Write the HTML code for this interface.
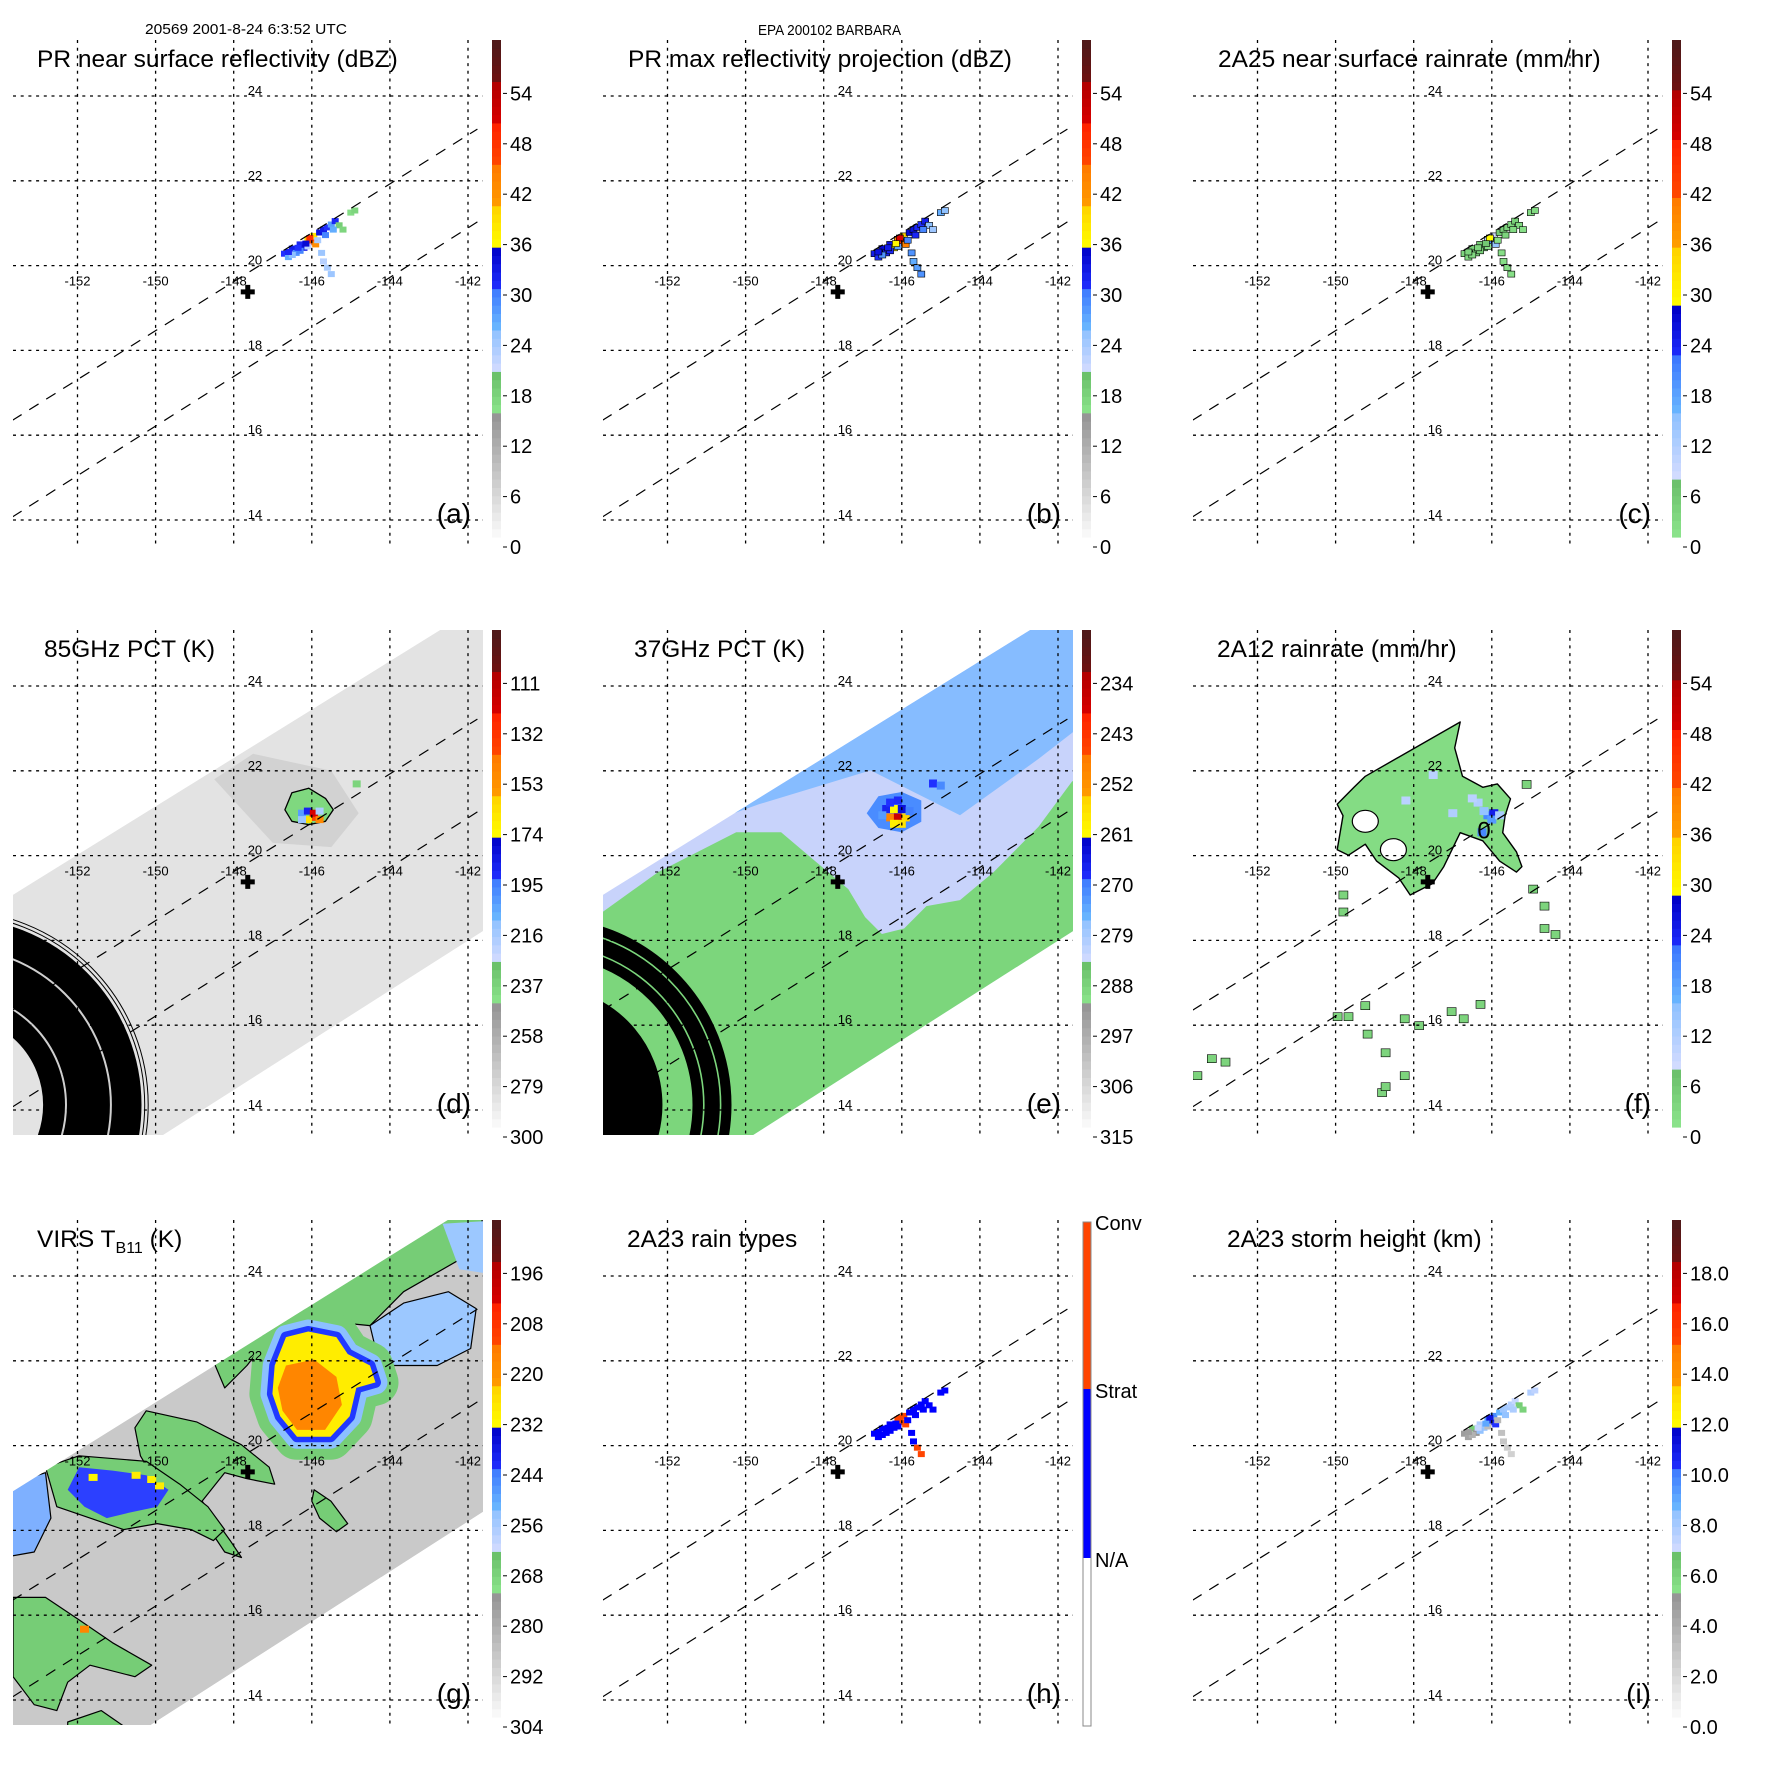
<!DOCTYPE html>
<html><head><meta charset="utf-8"><title>TRMM Barbara</title>
<style>
html,body{margin:0;padding:0;background:#fff;}
svg{display:block;font-family:"Liberation Sans",Arial,sans-serif;}
</style></head>
<body>
<svg id="chart" xmlns="http://www.w3.org/2000/svg" width="1771" height="1771" viewBox="0 0 1771 1771">
<rect x="0" y="0" width="1771" height="1771" fill="#fff"/>
<text x="145" y="34" font-size="15" textLength="202" lengthAdjust="spacingAndGlyphs">20569 2001-8-24 6:3:52 UTC</text>
<text x="758" y="35" font-size="14.5" textLength="143" lengthAdjust="spacingAndGlyphs">EPA 200102 BARBARA</text>
</svg>
<script>
// ---------- data ----------
const lonTicks=[-152,-150,-148,-146,-144,-142];
const latTicks=[14,16,18,20,22,24];
const centerLon=[-147.64];
const centerLat=[19.38];
const edge1Lon=[-153.67,-141.76]; const edge1Lat=[16.35,23.22];
const edge2Lon=[-153.67,-141.76]; const edge2Lat=[14.07,21.03];
const prLon=[-146.7,-146.6,-146.5,-146.4,-146.3,-146.2,-146.1,-146.0,-145.95,-145.9,-145.8,-145.7,-145.6,-145.5,-145.4,-146.5,-146.1,-145.85,-145.75,-145.7,-145.6,-145.5,-145.3,-145.2,-145.0,-144.9,-146.3,-146.05,-146.6,-146.35,-146.15,-145.65,-145.45];
const prLat=[20.28,20.2,20.4,20.3,20.5,20.42,20.62,20.55,20.7,20.5,20.78,20.85,20.9,20.97,21.05,20.25,20.45,20.6,20.3,20.1,19.95,19.8,20.95,20.85,21.25,21.3,20.35,20.65,20.32,20.42,20.52,20.72,20.85];
const aVals=[30,26,32,28,31,33,40,45,38,42,33,32,30,27,31,25,22,23,24,22,23,24,18,17,16,17,29,48,31,30,34,29,26];
const bVals=[32,30,34,31,33,35,42,48,40,44,34,33,31,30,32,28,27,29,28,26,27,28,25,24,26,25,31,50,33,32,36,31,29];
const cVals=[3,2,4,3,5,6,12,20,8,14,5,4,3,2,4,2,1,1,1,1,1,1,2,1,2,2,4,28,3,3,5,3,2];
const hVals=[1,1,1,1,1,1,2,2,2,2,1,1,1,1,1,1,1,1,1,1,2,2,1,1,1,1,1,2,1,1,1,1,1];
const iVals=[4.5,4.2,6,4.8,7.5,8,9,10.5,9.5,10,8.5,8,7.8,7.5,7,3.5,3,3.2,2.8,2.5,2.2,2,6,5.8,7.5,7.2,8.2,11,4.4,7,8.8,8.2,7.6];
const tmiSwathLon=[-155,-141,-141,-155]; const tmiSwathLat=[18.31,26.3,18.58,10.36];
const virsSwathLon=[-155,-141,-141,-155]; const virsSwathLat=[18.15,26.19,18.80,10.53];
const ringLon=[-155.17]; const ringLat=[14.12];
const dBlobLon=[-146.51,-146.08,-145.65,-145.45,-145.65,-146.08,-146.51,-146.69];
const dBlobLat=[21.48,21.59,21.35,21.08,20.81,20.73,20.81,21.08];
const dSmudgeLon=[-148.5,-147.5,-145.5,-144.8,-145.5,-147.0];
const dSmudgeLat=[21.8,22.4,22.0,21.0,20.2,20.3];
const dCellLon=[-146.25,-146.1,-145.95,-146.1,-145.95,-145.8,-146.25,-145.8,-144.85];
const dCellLat=[21.0,21.05,20.9,20.85,21.0,20.85,20.85,21.05,21.69];
const dCellVal=[205,190,140,165,125,150,215,220,240];
const eBlueLon=[-150.3,-141,-141,-142.5,-144.51,-146.8,-149.66];
const eBlueLat=[21.0,26.3,23.35,22.28,20.95,22.01,21.21];
const eGreenLon=[-153.65,-152.24,-150.24,-149.09,-148.23,-147.37,-146.94,-146.51,-145.94,-145.37,-144.51,-143.65,-142.5,-141.64,-141,-141,-155,-155];
const eGreenLat=[18.68,19.61,20.55,20.55,19.88,19.21,18.55,18.15,18.28,18.81,18.95,19.61,20.68,21.75,21.9,10,10,17.9];
const eHaloLon=[-146.9,-146.6,-146.0,-145.5,-145.5,-146.0,-146.6];
const eHaloLat=[21.0,21.4,21.5,21.3,20.8,20.55,20.65];
const eCellLon=[-146.4,-146.2,-146.0,-146.3,-146.1,-145.9,-146.2,-146.0,-146.3,-146.1,-145.2,-145.0,-146.5,-145.8];
const eCellLat=[21.1,21.1,21.1,20.9,20.9,20.9,20.75,20.75,21.25,21.3,21.7,21.65,20.95,21.05];
const eCellVal=[268,262,265,250,238,255,260,258,270,269,270,272,274,271];
const fBlobLon=[-146.81,-146.95,-146.75,-146.23,-145.86,-145.52,-145.66,-145.72,-145.37,-145.23,-145.37,-145.8,-146.23,-146.81,-147.23,-147.52,-148.09,-148.38,-148.95,-149.24,-149.67,-149.96,-149.81,-149.96,-149.53,-149.24];
const fBlobLat=[23.15,22.54,21.87,21.61,21.69,21.34,20.94,20.54,20.09,19.74,19.61,19.87,20.35,20.54,19.74,19.34,19.07,19.47,19.87,20.27,20.01,20.14,20.94,21.21,21.61,21.87];
const fHoleLon=[-149.24,-148.52]; const fHoleLat=[20.81,20.14];
const fIsleLon=[-149.8,-149.8,-144.94,-144.65,-144.65,-144.37,-149.95,-149.67,-149.18,-149.24,-148.23,-147.86,-148.72,-148.81,-148.72,-148.23,-146.72,-146.29,-147.03,-153.17,-152.82,-153.54,-145.11];
const fIsleLat=[19.07,18.67,19.21,18.81,18.28,18.14,16.2,16.2,15.79,16.46,16.15,15.99,15.35,14.41,14.55,14.81,16.15,16.49,16.32,15.21,15.13,14.81,21.68];
const fCellLon=[-146.1,-145.95,-146.0,-146.2,-146.35,-146.5,-145.8,-146.25,-147.5,-148.2,-147.0];
const fCellLat=[20.95,21.0,20.85,21.05,21.25,21.35,20.95,20.55,21.9,21.3,21.0];
const fCellVal=[20,24,18,14,11,10,12,20,10,10,11];
const gStormLon=[-146.66,-146.09,-145.37,-145.08,-144.51,-144.37,-144.86,-145.03,-145.52,-146.38,-146.81,-147.01,-146.95];
const gStormLat=[22.56,22.69,22.56,22.16,21.89,21.49,21.36,20.69,20.21,20.21,20.69,21.22,21.89];
const gCoreLon=[-146.66,-145.94,-145.37,-145.23,-145.66,-146.38,-146.75,-146.87];
const gCoreLat=[21.89,22.03,21.62,20.96,20.37,20.37,20.82,21.36];
const gBlueLon=[-151.96,-151.1,-150.24,-149.67,-149.96,-150.67,-151.25,-151.82,-152.25];
const gBlueLat=[19.49,19.41,19.30,18.96,18.56,18.42,18.29,18.56,18.96];
const gBlueHaloLon=[-152.82,-151.96,-150.24,-149.38,-148.66,-148.23,-148.52,-149.09,-149.96,-150.82,-151.68,-152.53];
const gBlueHaloLat=[19.49,19.76,19.63,19.09,18.56,18.02,17.76,18.02,18.16,18.02,18.29,18.56];
const gTailLon=[-150.24,-148.95,-147.8,-147.09,-146.95,-147.66,-148.23,-148.81,-148.09,-147.8,-148.23,-148.81,-149.38,-149.96,-150.39,-150.53];
const gTailLat=[20.82,20.56,20.02,19.49,19.09,19.22,19.36,18.69,17.76,17.36,17.49,18.29,18.56,19.09,19.76,20.42];
const gTopLon=[-148.66,-147.09,-144.8,-141.93,-141.64,-141.64,-143.65,-144.51,-145.94,-147.09,-147.66,-148.23];
const gTopLat=[22.3,23.6,24.8,25.5,25.5,24.69,23.63,22.83,22.96,22.56,21.89,21.36];
const gRightLon=[-144.51,-143.65,-142.5,-141.79,-141.93,-142.79,-143.94,-144.37];
const gRightLat=[22.83,23.36,23.63,23.23,22.29,21.89,21.89,22.29];
const gCornerLon=[-142.65,-141.3,-141.3,-142.22]; const gCornerLat=[25.23,25.31,24.03,24.16];
const gPatchLon=[-145.94,-145.51,-145.08,-145.37,-145.8,-146.0]; const gPatchLat=[18.96,18.69,18.16,17.97,18.29,18.69];
const gLowLon=[-153.65,-152.82,-151.96,-151.1,-150.1,-150.53,-151.68,-152.25,-152.53,-153.11,-153.65];
const gLowLat=[16.42,16.42,15.89,15.35,14.82,14.55,14.82,14.42,13.75,13.89,14.55];
const gLeftLon=[-153.9,-152.82,-152.68,-153.11,-153.9]; const gLeftLat=[19.04,19.36,18.29,17.49,17.36];
const gBotLon=[-152.25,-151.39,-150.53,-152.25]; const gBotLat=[13.48,13.75,13.2,13.2];
const gSpotLon=[-150.5,-150.1,-149.9,-151.6,-151.82]; const gSpotLat=[19.3,19.2,19.05,19.25,15.67]; const gSpotVal=[230,231,230,232,218];
const dbzLabels=['0','6','12','18','24','30','36','42','48','54'];
const k85Labels=['300','279','258','237','216','195','174','153','132','111'];
const k37Labels=['315','306','297','288','279','270','261','252','243','234'];
const virsLabels=['304','292','280','268','256','244','232','220','208','196'];
const kmLabels=['0.0','2.0','4.0','6.0','8.0','10.0','12.0','14.0','16.0','18.0'];
const typeLabels=['N/A','Strat','Conv'];

// ---------- helpers ----------
const NS='http://www.w3.org/2000/svg';
const svg=document.getElementById('chart');
function mk(tag,attrs,parent){const e=document.createElementNS(NS,tag);for(const k in attrs)e.setAttribute(k,attrs[k]);parent.appendChild(e);return e;}
const X=lon=>77.5+(lon+152)*39.05;
const Y=lat=>96+(24-lat)*42.4;
const DEG=39.05;
const STD=[[0,.25,'#fbfbfb','#939393'],[.25,.333,'#8ce58c','#68bd68'],[.333,.42,'#d4dcff','#8cc0ff'],[.42,.5,'#6ab8ff','#3c78ff'],[.5,.583,'#2030ff','#0000c8'],[.583,.667,'#ffff00','#ffd200'],[.667,.75,'#ff9c00','#ff7800'],[.75,.833,'#ff4800','#ff2000'],[.833,.917,'#d80000','#b00000'],[.917,1.001,'#6e1010','#4c1a1a']];
const RAIN=[[0,.12,'#8ce58c','#68bd68'],[.12,.25,'#d4dcff','#8cc0ff'],[.25,.36,'#6ab8ff','#3c78ff'],[.36,.46,'#2030ff','#0000c8'],[.46,.58,'#ffff00','#ffd200'],[.58,.69,'#ffa000','#ff7800'],[.69,.80,'#ff4800','#ff2000'],[.80,.90,'#d80000','#b00000'],[.90,1.001,'#6e1010','#4c1a1a']];
function hx(c){return [parseInt(c.substr(1,2),16),parseInt(c.substr(3,2),16),parseInt(c.substr(5,2),16)];}
function ramp(R,f){f=Math.max(0,Math.min(1,f));for(const b of R){if(f>=b[0]&&f<b[1]){const t=(f-b[0])/(b[1]-b[0]);const a=hx(b[2]),c=hx(b[3]);return 'rgb('+a.map((v,i)=>Math.round(v+(c[i]-v)*t)).join(',')+')';}}return R[R.length-1][3];}
function pts(lons,lats){return lons.map((l,i)=>X(l).toFixed(1)+','+Y(lats[i]).toFixed(1)).join(' ');}

const panels=[
 {id:'a',c:0,r:0,title:'PR near surface reflectivity (dBZ)',tx:37,R:STD,fr:v=>v/60,labels:dbzLabels,name:'pr-near-surface-panel'},
 {id:'b',c:1,r:0,title:'PR max reflectivity projection (dBZ)',tx:38,R:STD,fr:v=>v/60,labels:dbzLabels,name:'pr-max-reflectivity-panel'},
 {id:'c',c:2,r:0,title:'2A25 near surface rainrate (mm/hr)',tx:38,R:RAIN,fr:v=>v/60,labels:dbzLabels,name:'2a25-rainrate-panel'},
 {id:'d',c:0,r:1,title:'85GHz PCT (K)',tx:44,R:STD,fr:v=>(300-v)/210,labels:k85Labels,name:'85ghz-pct-panel'},
 {id:'e',c:1,r:1,title:'37GHz PCT (K)',tx:44,R:STD,fr:v=>(315-v)/90,labels:k37Labels,name:'37ghz-pct-panel'},
 {id:'f',c:2,r:1,title:'2A12 rainrate (mm/hr)',tx:37,R:RAIN,fr:v=>v/60,labels:dbzLabels,name:'2a12-rainrate-panel'},
 {id:'g',c:0,r:2,title:'VIRS',tx:37,R:STD,fr:v=>(304-v)/120,labels:virsLabels,name:'virs-tb11-panel'},
 {id:'h',c:1,r:2,title:'2A23 rain types',tx:37,R:null,fr:null,labels:typeLabels,name:'2a23-rain-type-panel'},
 {id:'i',c:2,r:2,title:'2A23 storm height (km)',tx:47,R:STD,fr:v=>v/20,labels:kmLabels,name:'2a23-storm-height-panel'}
];

function cells(g,P,lons,lats,vals,w,h,colorFn,stroke,name){
  lons.forEach((l,k)=>{
    const r=mk('rect',{x:(X(l)-w/2).toFixed(1),y:(Y(lats[k])-h/2).toFixed(1),width:w,height:h,fill:colorFn(vals[k])},g);
    if(stroke){r.setAttribute('stroke','#000');r.setAttribute('stroke-width','0.6');}
    
    
  });
}
function poly(g,lons,lats,fill,name,stroke,sw){
  const p=mk('polygon',{points:pts(lons,lats),fill:fill},g);
  if(stroke){p.setAttribute('stroke',stroke);p.setAttribute('stroke-width',sw||1.2);p.setAttribute('stroke-linejoin','round');}
  
  
  return p;
}
function ring(g,r1,r2,color,name){
  const c=mk('circle',{cx:X(ringLon[0]).toFixed(1),cy:Y(ringLat[0]).toFixed(1),r:((r1+r2)/2*DEG).toFixed(1),fill:'none',stroke:color,'stroke-width':Math.max(1,(r2-r1)*DEG).toFixed(1)},g);
  
  
}

panels.forEach(P=>{
  const G=mk('g',{transform:'translate('+(P.c*590)+','+(P.r*590)+')'},svg);
  
  
  const cp=mk('clipPath',{id:'clip-'+P.id},G);
  mk('rect',{x:13,y:40,width:470,height:505},cp);
  const D0=mk('g',{'clip-path':'url(#clip-'+P.id+')'},G);
  
  
  let D=D0;
  if(P.id==='d'||P.id==='e'||P.id==='g'){
    const sc=mk('clipPath',{id:'swclip-'+P.id},G);
    const sl=P.id==='g'?virsSwathLon:tmiSwathLon, sla=P.id==='g'?virsSwathLat:tmiSwathLat;
    mk('polygon',{points:pts(sl,sla)},sc);
    D=mk('g',{'clip-path':'url(#swclip-'+P.id+')'},D0);
    
    
  }
  const col=v=>ramp(P.R,P.fr(v));

  if(P.id==='a'||P.id==='b'||P.id==='c'||P.id==='i'){
    const vals={a:aVals,b:bVals,c:cVals,i:iVals}[P.id];
    cells(D,P,prLon,prLat,vals,7,6,col,P.id==='b'||P.id==='c','pr-pixel');
  }
  if(P.id==='h'){
    cells(D,P,prLon,prLat,hVals,7,6,v=>v===2?'#ff4400':'#0000ff',false,'rain-type-pixel');
  }
  if(P.id==='d'){
    poly(D,tmiSwathLon,tmiSwathLat,'#e3e3e3','tmi-swath');
    const s=poly(D,dSmudgeLon,dSmudgeLat,'#c4c4c4','cold-scattering-area');s.setAttribute('opacity','0.55');
    ring(D,2.29,4.81,'#000','contour-ring');
    ring(D,2.85,2.9,'#cfcfcf','contour-gap');
    ring(D,4.0,4.05,'#cfcfcf','contour-gap');
    ring(D,4.88,4.9,'#000','contour-ring');
    ring(D,4.97,4.99,'#000','contour-ring');
    poly(D,dBlobLon,dBlobLat,'#7fd87f','pct-237-region','#000',1.3);
    cells(D,P,dCellLon,dCellLat,dCellVal,8,7,col,false,'pct-pixel');
  }
  if(P.id==='e'){
    poly(D,tmiSwathLon,tmiSwathLat,'#c8d3fb','tmi-swath');
    poly(D,eBlueLon,eBlueLat,'#86bcff','pct-279-region');
    poly(D,eGreenLon,eGreenLat,'#7cd67c','pct-288-region');
    ring(D,0,3.04,'#000','contour-disk');
    ring(D,3.81,4.81,'#000','contour-ring');
    ring(D,4.08,4.12,'#7cd67c','contour-gap');
    ring(D,4.51,4.55,'#7cd67c','contour-gap');
    poly(D,eHaloLon,eHaloLat,'#4a8cff','pct-270-region');
    cells(D,P,eCellLon,eCellLat,eCellVal,8,8,col,false,'pct-pixel');
  }
  if(P.id==='f'){
    poly(D,fBlobLon,fBlobLat,'#84dc84','rain-region','#000',1.4);
    fHoleLon.forEach((l,k)=>{
      const e=mk('ellipse',{cx:X(l).toFixed(1),cy:Y(fHoleLat[k]).toFixed(1),rx:13,ry:11,fill:'#fff',stroke:'#000','stroke-width':1.2},D);
      
      
    });
    cells(D,P,fIsleLon,fIsleLat,fIsleLon.map(()=>3),9,8,col,true,'rain-island');
    cells(D,P,fCellLon,fCellLat,fCellVal,9,8,col,false,'rain-pixel');
    const t=mk('text',{x:X(-146.37).toFixed(1),y:(Y(20.59)+8).toFixed(1),'font-size':24},D);
    t.textContent='0';
    
    
  }
  if(P.id==='g'){
    poly(D,virsSwathLon,virsSwathLat,'#c9c9c9','virs-swath');
    const gr=ramp(STD,P.fr(268));
    poly(D,gTopLon,gTopLat,gr,'cloud-edge-region','#000',1.2);
    poly(D,gRightLon,gRightLat,'#9cc8ff','cloud-edge-region','#000',1.2);
    poly(D,gCornerLon,gCornerLat,'#9cc8ff','cloud-edge-region');
    poly(D,gTailLon,gTailLat,gr,'cloud-band-region','#000',1.2);
    poly(D,gPatchLon,gPatchLat,gr,'cloud-patch','#000',1.2);
    poly(D,gLowLon,gLowLat,gr,'cloud-band-region','#000',1.2);
    poly(D,gLeftLon,gLeftLat,'#7eb0ff','cloud-band-region','#000',1.2);
    poly(D,gBotLon,gBotLat,gr,'cloud-band-region','#000',1.2);
    poly(D,gBlueHaloLon,gBlueHaloLat,gr,'cold-cloud-halo','#000',1.2);
    poly(D,gBlueLon,gBlueLat,'#2c40ff','cold-cloud-region');
    poly(D,gStormLon,gStormLat,'none','storm-green-halo',gr,46);
    poly(D,gStormLon,gStormLat,'none','storm-lightblue-fringe','#8cc0ff',24);
    poly(D,gStormLon,gStormLat,'none','storm-blue-fringe','#2038ff',11);
    poly(D,gStormLon,gStormLat,ramp(STD,P.fr(230)),'storm-anvil');
    poly(D,gCoreLon,gCoreLat,ramp(STD,P.fr(218)),'storm-core');
    cells(D,P,gSpotLon,gSpotLat,gSpotVal,9,7,col,false,'cold-spot');
  }

  lonTicks.forEach(l=>{
    const ln=mk('line',{x1:X(l).toFixed(1),x2:X(l).toFixed(1),y1:40,y2:545,stroke:'#000','stroke-width':1.3,'stroke-dasharray':'3,4.7'},G);
    
    
    const t=mk('text',{x:X(l).toFixed(1),y:(Y(20)+20).toFixed(1),'font-size':13,'text-anchor':'middle'},G);
    t.textContent=String(l);
    
    
  });
  latTicks.forEach(l=>{
    const ln=mk('line',{x1:13,x2:483,y1:Y(l).toFixed(1),y2:Y(l).toFixed(1),stroke:'#000','stroke-width':1.3,'stroke-dasharray':'3,4.7'},G);
    
    
    const t=mk('text',{x:(X(-148)+14).toFixed(1),y:(Y(l)-1).toFixed(1),'font-size':13},G);
    t.textContent=String(l);
    
    
  });
  [[edge1Lon,edge1Lat],[edge2Lon,edge2Lat]].forEach(e=>{
    const ln=mk('line',{x1:X(e[0][0]).toFixed(1),y1:Y(e[1][0]).toFixed(1),x2:X(e[0][1]).toFixed(1),y2:Y(e[1][1]).toFixed(1),stroke:'#000','stroke-width':1.2,'stroke-dasharray':'11,9','clip-path':'url(#clip-'+P.id+')'},G);
    
    
  });
  const cx=X(centerLon[0]),cy=Y(centerLat[0]);
  const cr=mk('path',{d:'M'+(cx-7)+','+cy+'H'+(cx+7)+'M'+cx+','+(cy-7)+'V'+(cy+7),stroke:'#000','stroke-width':5,fill:'none'},G);
  
  
  const tt=mk('text',{x:P.tx,y:67,'font-size':24.5},G);
  if(P.id==='g'){
    tt.innerHTML='VIRS T<tspan font-size="16" dy="6">B11</tspan><tspan dy="-6"> (K)</tspan>';
  } else tt.textContent=P.title;
  
  
  const lt=mk('text',{x:471,y:523,'font-size':28,'text-anchor':'end'},G);
  lt.textContent='('+P.id+')';
  
  
  const CB=mk('g',{},G);
  
  
  if(P.id==='h'){
    const segs=[[42,209,'#ff4400'],[209,378,'#0000ff'],[378,546,'#ffffff']];
    segs.forEach(s=>{
      const r=mk('rect',{x:493,y:s[0],width:8,height:s[1]-s[0],fill:s[2]},CB);
      
      
    });
    const bd=mk('rect',{x:493,y:42,width:8,height:504,fill:'none',stroke:'#888','stroke-width':1},CB);
    
    
    const ys=[380,211,43];
    typeLabels.forEach((lab,k)=>{
      const t=mk('text',{x:505,y:ys[k]+7,'font-size':20},CB);
      t.textContent=lab;
      
      
    });
  } else {
    const N=60,top=40,bot=537;
    for(let k=0;k<N;k++){
      const f=(k+0.5)/N;
      const y0=bot-(k+1)*(bot-top)/N;
      const r=mk('rect',{x:492,y:y0.toFixed(2),width:9,height:((bot-top)/N+0.6).toFixed(2),fill:ramp(P.R,f)},CB);
      
      
    }
    P.labels.forEach((lab,k)=>{
      const y=547-k*50.4;
      const tk=mk('line',{x1:503,x2:507,y1:y.toFixed(1),y2:y.toFixed(1),stroke:'#000','stroke-width':1},CB);
      
      
      const t=mk('text',{x:510,y:(y+7).toFixed(1),'font-size':20},CB);
      t.textContent=lab;
      
      
    });
  }
});
</script>
</body></html>
